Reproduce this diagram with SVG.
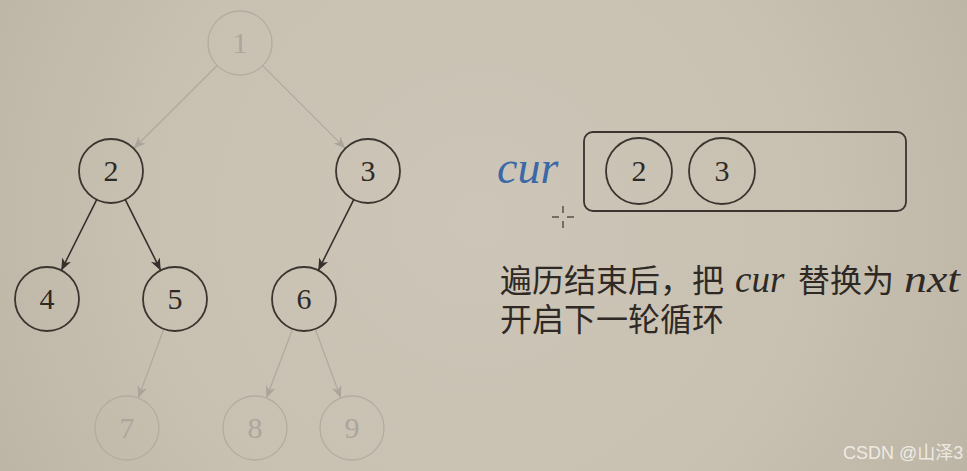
<svg xmlns="http://www.w3.org/2000/svg" width="967" height="471" viewBox="0 0 967 471">
  <defs>
    <radialGradient id="bg" cx="480" cy="220" r="560" gradientUnits="userSpaceOnUse">
      <stop offset="0" stop-color="#cdc6b8"/>
      <stop offset="0.6" stop-color="#c8c1b2"/>
      <stop offset="1" stop-color="#bcb5a6"/>
    </radialGradient>
    <marker id="ahDark" viewBox="0 0 12 10" markerWidth="12" markerHeight="10" refX="12" refY="5" orient="auto" markerUnits="userSpaceOnUse">
      <path d="M0,0 L12,5 L0,10 L3.5,5 Z" fill="#35302b"/>
    </marker>
    <marker id="ahFaint" viewBox="0 0 12 10" markerWidth="12" markerHeight="10" refX="12" refY="5" orient="auto" markerUnits="userSpaceOnUse">
      <path d="M0,0 L12,5 L0,10 L3.5,5 Z" fill="#aaa49a"/>
    </marker>
    <style>
      .dark circle { fill: none; stroke: #3a352f; stroke-width: 1.8; }
      .faint circle { fill: none; stroke: #b2aca1; stroke-width: 1.3; }
      .num { font-family: "Liberation Serif", "DejaVu Serif", serif; font-size: 30px; text-anchor: middle; }
      .dark text { fill: #2f2a25; }
      .faint text { fill: #aba59b; }
      .eDark { stroke: #35302b; stroke-width: 1.6; fill: none; marker-end: url(#ahDark); }
      .eFaint { stroke: #aea89e; stroke-width: 1.2; fill: none; marker-end: url(#ahFaint); }
      .cjk { font-family: "Noto Sans CJK SC", "Noto Sans", sans-serif; font-size: 32px; fill: #2e2924; }
      .mi { font-family: "Liberation Serif", "DejaVu Serif", serif; font-style: italic; font-size: 37px; }
    </style>
  </defs>
  <rect x="0" y="0" width="967" height="471" fill="url(#bg)"/>

  <g id="connectors">
    <line class="eFaint" x1="217.3" y1="65.5" x2="133.7" y2="148.5"/>
    <line class="eFaint" x1="262.6" y1="65.6" x2="345.4" y2="148.4"/>
    <line class="eDark" x1="96.7" y1="199.6" x2="61.3" y2="270.4"/>
    <line class="eDark" x1="125.3" y1="199.6" x2="160.7" y2="270.4"/>
    <line class="eDark" x1="353.7" y1="199.6" x2="318.3" y2="270.4"/>
    <line class="eFaint" x1="163.8" y1="329" x2="138.2" y2="398"/>
    <line class="eFaint" x1="292.6" y1="329" x2="266.4" y2="398"/>
    <line class="eFaint" x1="315.2" y1="329" x2="340.8" y2="398"/>
  </g>

  <g id="node1" class="faint"><circle cx="240" cy="43" r="32"/><text class="num" x="240" y="53">1</text></g>
  <g id="node2" class="dark"><circle cx="111" cy="171" r="32"/><text class="num" x="111" y="181">2</text></g>
  <g id="node3" class="dark"><circle cx="368" cy="171" r="32"/><text class="num" x="368" y="181">3</text></g>
  <g id="node4" class="dark"><circle cx="47" cy="299" r="32"/><text class="num" x="47" y="309">4</text></g>
  <g id="node5" class="dark"><circle cx="175" cy="299" r="32"/><text class="num" x="175" y="309">5</text></g>
  <g id="node6" class="dark"><circle cx="304" cy="299" r="32"/><text class="num" x="304" y="309">6</text></g>
  <g id="node7" class="faint"><circle cx="127" cy="428" r="32"/><text class="num" x="127" y="438">7</text></g>
  <g id="node8" class="faint"><circle cx="255" cy="428" r="32"/><text class="num" x="255" y="438">8</text></g>
  <g id="node9" class="faint"><circle cx="352" cy="428" r="32"/><text class="num" x="352" y="438">9</text></g>

  <g id="cur-queue">
    <text x="497" y="183" font-family="Liberation Serif, DejaVu Serif, serif" font-style="italic" font-size="46" fill="#3b68a6">cur</text>
    <rect x="584" y="132" width="322" height="79" rx="9" fill="none" stroke="#3a352f" stroke-width="1.8"/>
    <g id="q2" class="dark"><circle cx="639" cy="171" r="33"/><text class="num" x="639" y="181">2</text></g>
    <g id="q3" class="dark"><circle cx="722" cy="171" r="33"/><text class="num" x="722" y="181">3</text></g>
  </g>

  <g id="cursor" stroke="#3a352f" stroke-width="1.2">
    <line x1="563" y1="206" x2="563" y2="213"/>
    <line x1="563" y1="221" x2="563" y2="228"/>
    <line x1="552" y1="217" x2="559" y2="217"/>
    <line x1="567" y1="217" x2="574" y2="217"/>
  </g>

  <g id="caption">
    <text class="cjk"><tspan x="500" y="292">遍历结束后，把</tspan><tspan class="mi" x="735" y="292">cur</tspan><tspan x="798" y="292">替换为</tspan><tspan class="mi" x="904" y="292" textLength="56" lengthAdjust="spacingAndGlyphs">nxt</tspan><tspan x="500" y="331">开启下一轮循环</tspan></text>
  </g>

  <text x="843" y="459" font-family="Liberation Sans, Noto Sans CJK SC, sans-serif" font-size="18" fill="#f4f1ea" fill-opacity="0.9">CSDN @山泽3</text>
</svg>
